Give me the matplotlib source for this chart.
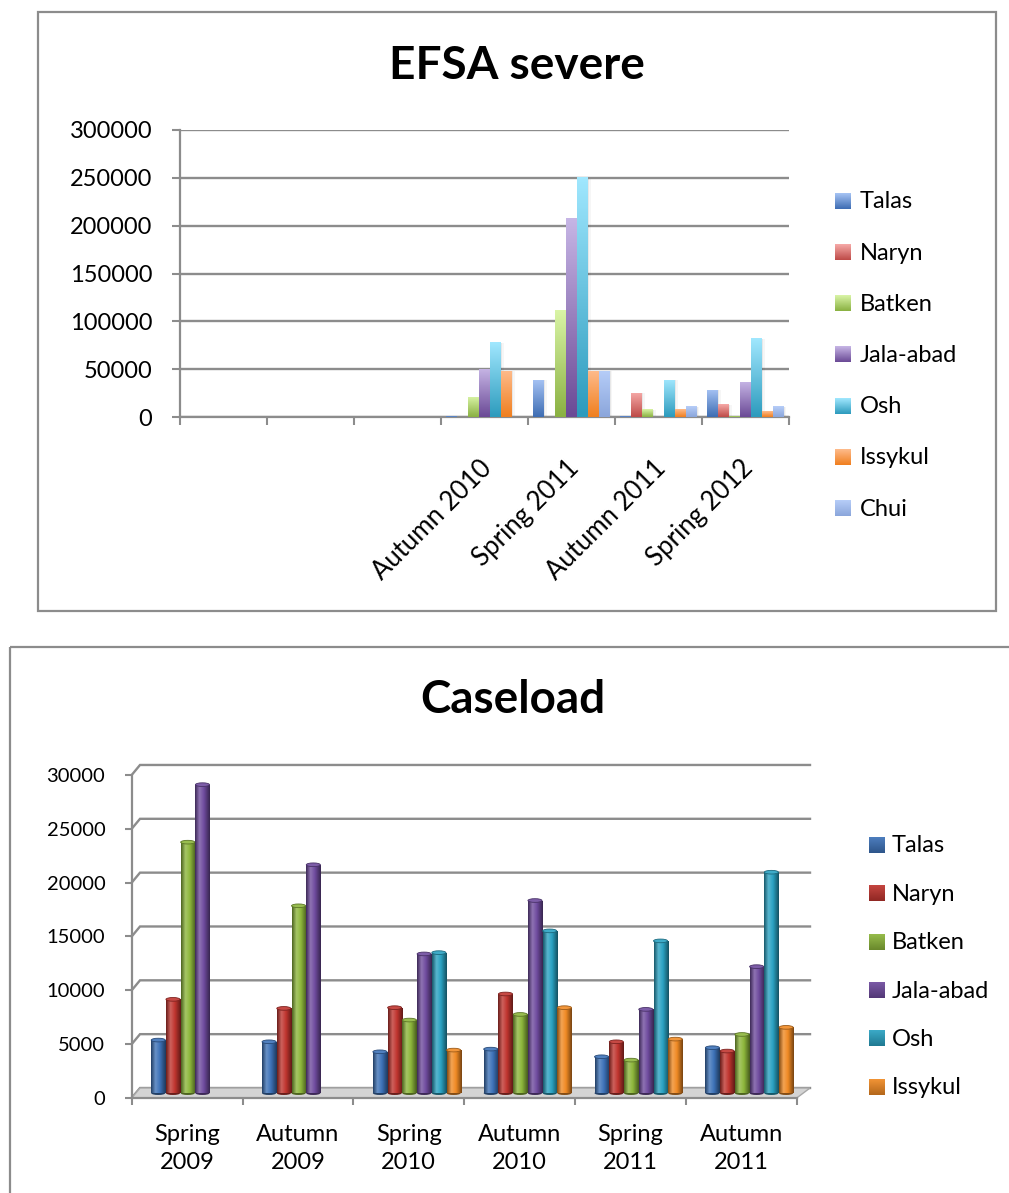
import numpy as np
import matplotlib
matplotlib.use("Agg")
import matplotlib.pyplot as plt
from matplotlib.patches import Rectangle, Ellipse, Polygon
from matplotlib.colors import LinearSegmentedColormap, to_rgb

plt.rcParams['font.family'] = ['Lato', 'DejaVu Sans']

W, H, DPI = 1009, 1193, 100

# ---------------- EFSA severe ----------------
efsa_periods = ["", "", "", "Autumn 2010", "Spring 2011", "Autumn 2011", "Spring 2012"]
efsa_regions = ["Talas", "Naryn", "Batken", "Jala-abad", "Osh", "Issykul", "Chui"]
efsa_talas    = [0, 0, 0, 1500, 39000, 1500, 28600]
efsa_naryn    = [0, 0, 0, 0, 0, 25500, 13100]
efsa_batken   = [0, 0, 0, 21400, 111500, 7900, 1500]
efsa_jalaabad = [0, 0, 0, 50400, 207700, 0, 36900]
efsa_osh      = [0, 0, 0, 78300, 251200, 39000, 82400]
efsa_issykul  = [0, 0, 0, 48300, 48300, 7900, 5900]
efsa_chui     = [0, 0, 0, 0, 48300, 11000, 11000]
efsa_values = [efsa_talas, efsa_naryn, efsa_batken, efsa_jalaabad,
               efsa_osh, efsa_issykul, efsa_chui]
efsa_ticks = [0, 50000, 100000, 150000, 200000, 250000, 300000]

# ---------------- Caseload ----------------
case_periods = ["Spring 2009", "Autumn 2009", "Spring 2010",
                "Autumn 2010", "Spring 2011", "Autumn 2011"]
case_regions = ["Talas", "Naryn", "Batken", "Jala-abad", "Osh", "Issykul"]
case_talas    = [4930, 4770, 3840, 4090, 3380, 4220]
case_naryn    = [8710, 7870, 7940, 9210, 4770, 3910]
case_batken   = [23310, 17400, 6790, 7310, 3070, 5450]
case_jalaabad = [28650, 21210, 12930, 17890, 7780, 11750]
case_osh      = [np.nan, np.nan, 13050, 15070, 14140, 20520]
case_issykul  = [np.nan, np.nan, 4000, 7940, 5020, 6110]
case_values = [case_talas, case_naryn, case_batken, case_jalaabad,
               case_osh, case_issykul]
case_ticks = [0, 5000, 10000, 15000, 20000, 25000, 30000]

# gradient colours (top, bottom) for the flat chart
efsa_colors = [("#A6C3F4", "#3E6DB3"), ("#F6A9A7", "#BE4B48"),
               ("#D9F4A6", "#8AB142"), ("#C6B5E5", "#6B4A96"),
               ("#A0E7FE", "#2D9BBD"), ("#FEBB8B", "#F07F1F"),
               ("#B6CDF8", "#8BA6DB")]
# base colours for the cylinder chart
case_colors = ["#3D72B8", "#C0352F", "#8DB63B", "#6F4B9E", "#2AA2C2", "#F08A24"]

GRID = "#8C8C8C"
FRAME = "#8C8C8C"
FS = 17


def mix(c, other, t):
    a = np.array(to_rgb(c))
    b = np.array(to_rgb(other))
    return tuple((1 - t) * a + t * b)


def rect_px(x0, y0, x1, y1):
    return [x0 / W, 1 - y1 / H, (x1 - x0) / W, (y1 - y0) / H]


fig = plt.figure(figsize=(W / DPI, H / DPI), dpi=DPI)

# pixel-space layer for frames, titles and legends
overlay = fig.add_axes([0, 0, 1, 1], zorder=0)
overlay.set_xlim(0, W)
overlay.set_ylim(H, 0)
overlay.axis('off')

overlay.add_patch(Rectangle((38, 12), 958, 599, fill=False,
                            edgecolor=FRAME, lw=1.6))
overlay.add_patch(Rectangle((10, 647), 1020, 580, fill=False,
                            edgecolor=FRAME, lw=1.6))
overlay.text(517, 66, "EFSA severe", ha='center', va='center',
             fontsize=33, fontweight='bold')
overlay.text(513, 700, "Caseload", ha='center', va='center',
             fontsize=33, fontweight='bold')


def legend_square(x0, yc, size, ctop, cbot):
    grad = np.linspace(0, 1, 32).reshape(-1, 1)
    cmap = LinearSegmentedColormap.from_list("lg", [ctop, cbot])
    overlay.imshow(grad, extent=[x0, x0 + size, yc + size / 2, yc - size / 2],
                   origin='upper', cmap=cmap, aspect='auto',
                   interpolation='bilinear', zorder=3)


for k, name in enumerate(efsa_regions):
    yc = 201 + k * 51.2
    legend_square(835, yc, 15.5, *efsa_colors[k])
    overlay.text(860, yc + 1, name, ha='left', va='center', fontsize=FS)

for k, name in enumerate(case_regions):
    yc = 845 + k * 48.35
    c = case_colors[k]
    legend_square(869, yc, 16, mix(c, "white", 0.08), mix(c, "black", 0.25))
    overlay.text(891.5, yc + 1, name, ha='left', va='center', fontsize=FS)

overlay.set_xlim(0, W)
overlay.set_ylim(H, 0)

# ---------------- top chart: flat gradient bars ----------------
ax1 = fig.add_axes(rect_px(180, 130, 789, 417), zorder=2)
ax1.set_facecolor('none')
ncat = len(efsa_periods)
nser = len(efsa_regions)
bw = 0.126
xc = np.arange(ncat) + 0.5

for j, vals in enumerate(efsa_values):
    ctop, cbot = efsa_colors[j]
    xs = xc + (j - (nser - 1) / 2) * bw
    bars = ax1.bar(xs, vals, width=bw, color=cbot, linewidth=0, zorder=3,
                   label=efsa_regions[j])
    cmap = LinearSegmentedColormap.from_list("g%d" % j, [ctop, cbot])
    grad = np.linspace(0, 1, 64).reshape(-1, 1)
    for rect in bars:
        h = rect.get_height()
        if not h > 0:
            continue
        x0 = rect.get_x()
        # soft shadow to the right of the bar
        for k, a in enumerate((0.06, 0.035)):
            ax1.add_patch(Rectangle((x0 + bw * (0.12 + 0.12 * k), 0), bw,
                                    h * 0.99, facecolor="#000000", alpha=a,
                                    linewidth=0, zorder=2.5))
        im = ax1.imshow(grad, extent=[x0, x0 + bw, 0, h], origin='upper',
                        cmap=cmap, aspect='auto', interpolation='bilinear',
                        zorder=3.1)
        im.set_clip_path(rect)

ax1.set_xlim(0, ncat)
ax1.set_ylim(0, 300000)
ax1.set_yticks(efsa_ticks)
ax1.set_yticklabels([str(v) for v in efsa_ticks])
ax1.yaxis.grid(True, color=GRID, lw=1.7)
ax1.set_axisbelow(True)
ax1.set_xticks(np.arange(ncat + 1))
ax1.set_xticklabels([])
ax1.tick_params(axis='both', direction='out', color=GRID, width=1.5,
                length=6)
ax1.tick_params(axis='y', pad=14, labelsize=FS)
for s in ('top', 'right'):
    ax1.spines[s].set_visible(False)
for s in ('left', 'bottom'):
    ax1.spines[s].set_color(GRID)
    ax1.spines[s].set_linewidth(1.6)
for i, lab in enumerate(efsa_periods):
    if lab:
        ax1.annotate(lab, xy=(i + 0.5, 0), xycoords=('data', 'axes fraction'),
                     xytext=(2.5, -34), textcoords='offset points',
                     rotation=45, ha='right', va='center',
                     rotation_mode='anchor', fontsize=18.5)

# ---------------- bottom chart: 3D-style cylinders ----------------
ax2 = fig.add_axes(rect_px(131.7, 764.2, 796.7, 1098), zorder=2)
ax2.set_facecolor('none')
ncat2 = len(case_periods)
nser2 = len(case_regions)
ymax2 = 31000
px_per_unit = (1098 - 764.2) / ymax2
dy = 10 / px_per_unit                 # depth of the floor, in value units
dxl = 8.3 / 110.8                     # depth offset at the left wall
dxr = 13.3 / 110.8                    # depth offset at the right end

for v in case_ticks:
    ax2.plot([0, dxl, ncat2 + dxr], [v, v + dy, v + dy], color=GRID, lw=1.7,
             zorder=1, clip_on=False, solid_joinstyle='miter')

ax2.add_patch(Polygon([(0, 0), (ncat2, 0), (ncat2 + dxr, dy), (dxl, dy)],
                      closed=True, facecolor="#D4D4D4", edgecolor="#A8A8A8",
                      lw=1.0, zorder=2, clip_on=False))

pitch = 0.133
cw = 0.127
shift = 0.072
base = 450
hh = 170
xc2 = np.arange(ncat2) + 0.5
for j, vals in enumerate(case_values):
    c = case_colors[j]
    dark = mix(c, "black", 0.45)
    light = mix(c, "white", 0.22)
    cmap = LinearSegmentedColormap.from_list(
        "c%d" % j, [(0, dark), (0.3, light), (0.6, c), (1, mix(c, "black", 0.5))])
    xs = xc2 + (j - (nser2 - 1) / 2) * pitch + shift
    bars = ax2.bar(xs, vals, bottom=base, width=cw, color=c, linewidth=0,
                   zorder=4, label=case_regions[j])
    grad = np.linspace(0, 1, 64).reshape(1, -1)
    for rect, x in zip(bars, xs):
        h = rect.get_height()
        if not np.isfinite(h) or h <= 0:
            continue
        x0 = rect.get_x()
        ax2.add_patch(Ellipse((x, base), cw, 2 * hh, facecolor=dark,
                              linewidth=0, zorder=3.9))
        im = ax2.imshow(grad, extent=[x0, x0 + cw, base, base + h],
                        cmap=cmap, aspect='auto', interpolation='bilinear',
                        zorder=4.1)
        im.set_clip_path(rect)
        ax2.add_patch(Ellipse((x, base + h), cw, 2 * hh,
                              facecolor=mix(c, "white", 0.1),
                              edgecolor=mix(c, "black", 0.35), lw=0.6,
                              zorder=4.2))

ax2.set_xlim(0, ncat2)
ax2.set_ylim(0, ymax2)
ax2.set_yticks(case_ticks)
ax2.set_yticklabels([str(v) for v in case_ticks])
ax2.set_xticks(np.arange(ncat2 + 1))
ax2.set_xticklabels([])
ax2.tick_params(axis='both', direction='out', color=GRID, width=1.5,
                length=5)
ax2.tick_params(axis='y', pad=14, labelsize=14.5)
for s in ('top', 'right'):
    ax2.spines[s].set_visible(False)
for s in ('left', 'bottom'):
    ax2.spines[s].set_color(GRID)
    ax2.spines[s].set_linewidth(1.6)
ax2.spines['left'].set_bounds(0, 30000)
for i, lab in enumerate(case_periods):
    ax2.annotate(lab.replace(" ", "\n"), xy=(i + 0.5, 0),
                 xycoords=('data', 'axes fraction'),
                 xytext=(0, -36.4), textcoords='offset points',
                 ha='center', va='center', linespacing=1.43, fontsize=FS)

fig.savefig("out.png", dpi=DPI)
